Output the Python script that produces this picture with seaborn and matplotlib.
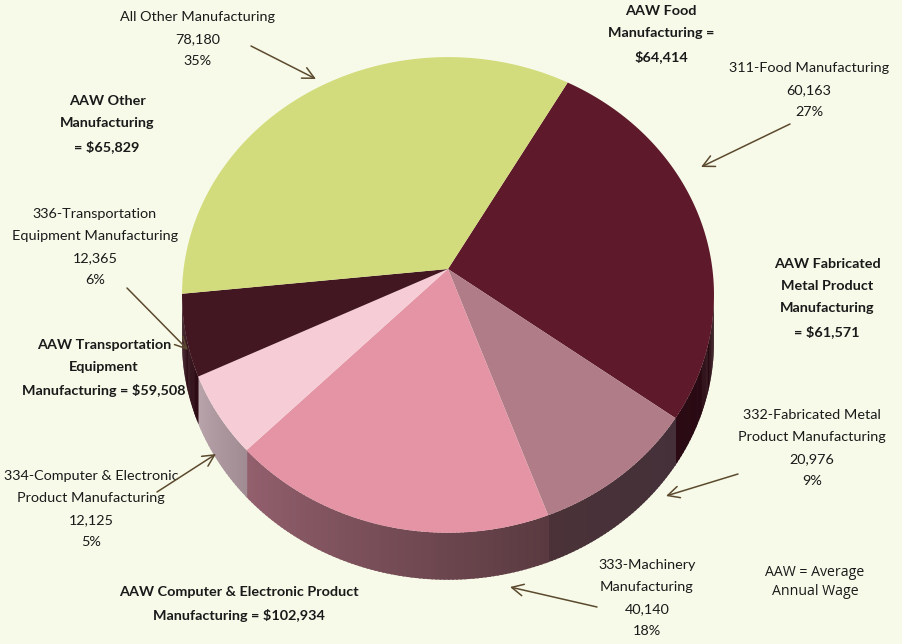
import numpy as np
import matplotlib
matplotlib.use("Agg")
import matplotlib.pyplot as plt
from matplotlib.colors import to_rgb
import seaborn as sns

categories = ["311-Food Manufacturing", "332-Fabricated Metal\nProduct Manufacturing",
              "333-Machinery\nManufacturing", "334-Computer & Electronic\nProduct Manufacturing",
              "336-Transportation\nEquipment Manufacturing", "All Other Manufacturing"]
employment = [60163, 20976, 40140, 12125, 12365, 78180]
percents = [27, 9, 18, 5, 6, 35]
wage_labels = ["AAW Food\nManufacturing =\n$64,414",
               "AAW Fabricated\nMetal Product\nManufacturing\n= $61,571",
               "AAW Computer & Electronic Product\nManufacturing = $102,934",
               "AAW Transportation\nEquipment\nManufacturing = $59,508",
               "AAW Other\nManufacturing\n= $65,829"]
top_colors = ["#5e1a2b", "#b07c88", "#e494a5", "#f6cdd7", "#431722", "#d3dc7c"]
wall_left = ["#2b0a14", "#4a3238", "#93606e", "#b8a4ab", "#2e0c16", "#d3dc7c"]
wall_right = ["#1a0308", "#45303a", "#5a3a40", "#a08c92", "#2e0c16", "#d3dc7c"]

BG = "#f7fae9"
sns.set_theme(style="white", rc={"figure.facecolor": BG, "axes.facecolor": BG})
plt.rcParams["font.family"] = ["Lato", "DejaVu Sans"]

fig = plt.figure(figsize=(9.03, 6.44), dpi=100)
ax = fig.add_axes([0, 0, 1, 1])
ax.set_xlim(0, 903)
ax.set_ylim(0, 644)
ax.axis("off")

H = 644
APEX_X, APEX_Y = 448, H - 269     # projected pie centre
A, B, K = 264.4, 235.0, 0.109     # perspective of the tilted disc
DEPTH = 47
ELL_Y = H - 295                   # height of the widest part of the outline
START = 60.3


def project(deg):
    t = np.radians(np.asarray(deg, float))
    u, v = np.cos(t), np.sin(t)
    w = 1 + K * v
    return APEX_X + A * u / w, APEX_Y + B * v / w


shares = np.array(employment, float) / sum(employment) * 360
ends = START - np.cumsum(shares)
starts = ends + shares

# extruded wall, then the top faces, both following the data shares
for a0, a1, cl, cr in zip(ends, starts, wall_left, wall_right):
    edges = np.append(np.arange(a0, a1, 0.8), a1)
    for t0, t1 in zip(edges[:-1], edges[1:]):
        x, y = project([t0 - 0.2, t1 + 0.2])
        if y.mean() > ELL_Y + 1:
            continue
        f = ((t0 + t1) / 2 - a0) / (a1 - a0)
        col = (1 - f) * np.array(to_rgb(cl)) + f * np.array(to_rgb(cr))
        ax.fill([x[0], x[1], x[1], x[0]], [y[0], y[1], y[1] - DEPTH, y[0] - DEPTH],
                color=col, lw=0, zorder=1)

for a0, a1, col in zip(ends, starts, top_colors):
    x, y = project(np.linspace(a0, a1, 200))
    ax.fill(np.r_[APEX_X, x], np.r_[APEX_Y, y], color=col, lw=0, zorder=2)

TXT = "#1a1a1a"
FS = 10.4


def label(x, y, s, bold=False, fs=FS, ls=2.02, family=None):
    kw = dict(family=family) if family else {}
    ax.text(x, H - y, s, ha="center", va="center", fontsize=fs, color=TXT,
            fontweight="bold" if bold else "normal", linespacing=ls, zorder=5, **kw)


def info(i):
    return f"{categories[i]}\n{employment[i]:,}\n{percents[i]}%"


label(198, 39, info(5))
label(809, 90, info(0))
label(95, 247, info(4))
label(812, 448, info(1))
label(91, 509, info(3))
label(647, 598, info(2))
label(661, 34, wage_labels[0], True)
label(827, 298, wage_labels[1], True)
label(239, 604, wage_labels[2], True)
label(104, 368, wage_labels[3], True)
label(107, 124, wage_labels[4], True)
label(815, 582, "AAW = Average\nAnnual Wage", fs=10.2, ls=1.4, family="Open Sans")

arrows = [((251, 46), (316, 79)), ((790, 124), (701, 167)), ((127, 288), (188, 350)),
          ((157, 492), (216, 454)), ((738, 474), (666, 496)), ((597, 607), (510, 587))]
for (x0, y0), (x1, y1) in arrows:
    ax.annotate("", xy=(x1, H - y1), xytext=(x0, H - y0), zorder=6,
                arrowprops=dict(arrowstyle="->,head_length=0.7,head_width=0.35",
                                color="#5c4a2e", lw=1.1, shrinkA=0, shrinkB=0))

fig.savefig("out.png", dpi=100, facecolor=BG)
